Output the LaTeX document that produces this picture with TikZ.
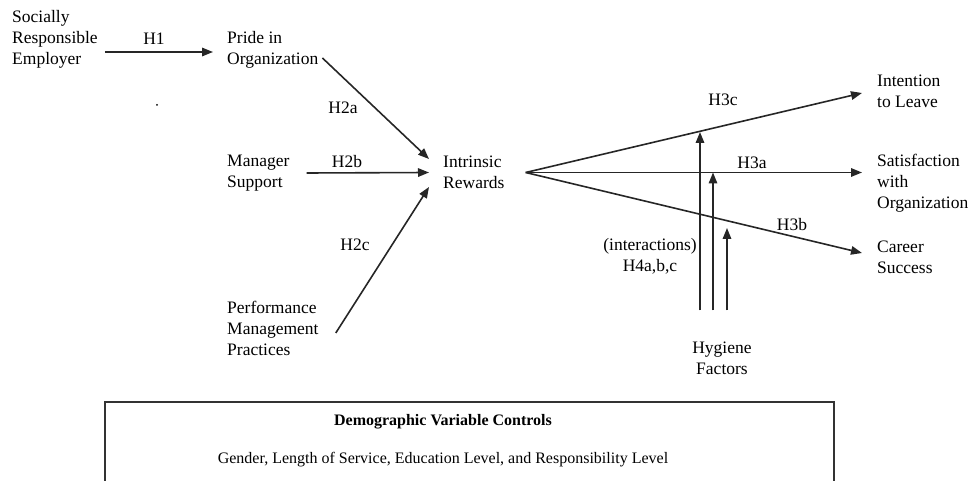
\documentclass[tikz,border=0pt]{standalone}
\usepackage{fontspec}
\setmainfont{Liberation Serif}
\usetikzlibrary{arrows.meta}

\begin{document}
\begin{tikzpicture}[x=1pt,y=1pt,
  txt/.style={inner sep=0pt,align=left,anchor=west,font=\fontsize{17.5}{21}\selectfont},
  lbl/.style={inner sep=0pt,font=\fontsize{17.5}{21}\selectfont},
  arr/.style={line width=1.6pt,draw=black!85,-{Triangle[length=11pt,width=8.5pt]}},
  ctrl/.style={inner sep=0pt,font=\fontsize{16}{19}\selectfont}]
  \clip (0,0) rectangle (970,-481);

  \node[txt] (sre) at (12,-39) {Socially\\Responsible\\Employer};
  \node[txt] (pride) at (227,-49.5) {Pride in\\Organization};
  \node[txt] (mgr) at (227,-173) {Manager\\Support};
  \node[txt] (pmp) at (227,-328) {Performance\\Management\\Practices};
  \node[txt] (ir) at (443,-172.5) {Intrinsic\\Rewards};
  \node[txt] (itl) at (877,-91.5) {Intention\\to Leave};
  \node[txt] (swo) at (877,-183) {Satisfaction\\with\\Organization};
  \node[txt] (cs) at (877,-257) {Career\\Success};
  \node[lbl,align=center] (hyg) at (722,-358) {Hygiene\\Factors};
  \node[lbl,align=center] (inter) at (650,-256) {(interactions)\\H4a,b,c};

  \node[lbl] (h1) at (154,-39) {H1};
  \node[lbl] (h2a) at (343,-108) {H2a};
  \node[lbl] (h2b) at (347,-162) {H2b};
  \node[lbl] (h2c) at (355,-245) {H2c};
  \node[lbl] (h3c) at (723,-100) {H3c};
  \node[lbl] (h3a) at (752,-163) {H3a};
  \node[lbl] (h3b) at (792,-225) {H3b};
  \fill (157,-105) circle (1pt);

  \coordinate (hub) at ([xshift=21pt]ir.east);
  \coordinate (t1) at (700,-132);
  \coordinate (t2) at (713,-172.5);
  \coordinate (t3) at (727,-228);

  \draw[arr] ([shift={(7,-13)}]sre.east) -- ([shift={(-14,-2.5)}]pride.west);
  \draw[arr] ([shift={(4,-8.5)}]pride.east) -- ([shift={(-14,13.5)}]ir.west);
  \draw[arr] ([xshift=17pt]mgr.east) -- ([xshift=-14pt]ir.west);
  \draw[arr] ([shift={(17,-5)}]pmp.east) -- ([shift={(-14,-14.5)}]ir.west);

  \draw[arr] (hub) -- ([shift={(-15,-1.5)}]itl.west);
  \draw[arr] (hub) -- ([shift={(-15,10.5)}]swo.west);
  \draw[arr] (hub) -- ([shift={(-15,4)}]cs.west);

  \draw[arr] (hyg.north -| t1) ++(0,31) -- (t1);
  \draw[arr] (hyg.north -| t2) ++(0,31) -- (t2);
  \draw[arr] (hyg.north -| t3) ++(0,31) -- (t3);

  \draw[line width=1.5pt,draw=black!80] (105,-402) rectangle (834,-500);
  \node[ctrl,font=\fontsize{16}{19}\selectfont\bfseries] (dvc) at (443,-422) {Demographic Variable Controls};
  \node[ctrl] (dvl) at (443,-460) {Gender, Length of Service, Education Level, and Responsibility Level};
\end{tikzpicture}
\end{document}
